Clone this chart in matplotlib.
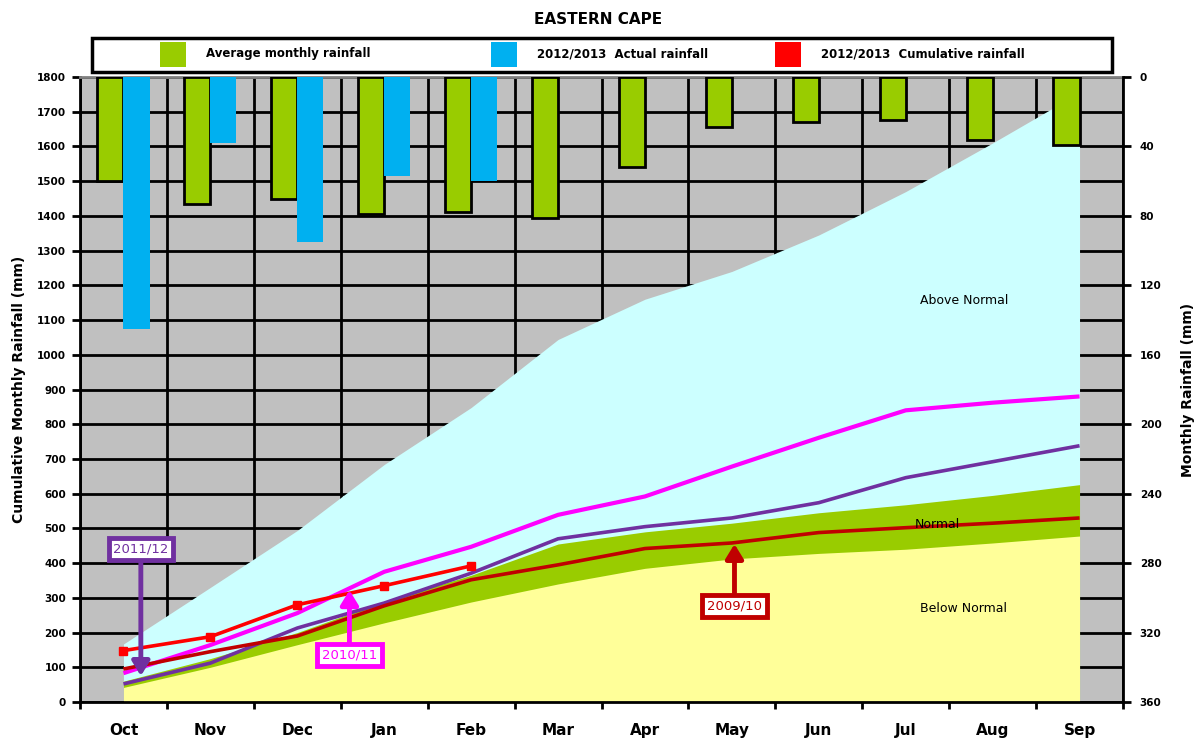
import numpy as np
import matplotlib
matplotlib.use("Agg")
import matplotlib.pyplot as plt
from matplotlib.patches import Rectangle

# ---------------- data ----------------
months = ['Oct', 'Nov', 'Dec', 'Jan', 'Feb', 'Mar', 'Apr', 'May', 'Jun', 'Jul', 'Aug', 'Sep']
avg_monthly = [60, 73, 70, 79, 78, 81, 52, 29, 26, 25, 36, 39]
actual_2012_13 = [145, 38, 95, 57, 60]
cum_2012_13 = [148, 188, 280, 335, 392]
below_normal = [42, 100, 165, 228, 288, 340, 385, 412, 428, 440, 458, 478]
normal_upper = [60, 125, 200, 290, 365, 455, 490, 515, 545, 568, 595, 626]
above_normal = [167, 330, 494, 684, 848, 1044, 1160, 1240, 1345, 1470, 1610, 1755]
s2009_10 = [95, 145, 190, 277, 352, 395, 442, 458, 488, 502, 515, 530]
s2010_11 = [83, 164, 256, 375, 447, 539, 592, 678, 761, 840, 862, 880]
s2011_12 = [52, 112, 213, 285, 371, 470, 505, 530, 574, 646, 692, 738]
left_ticks = list(range(0, 1900, 100))
right_ticks = list(range(0, 400, 40))

# ---------------- colours ----------------
GRAY = '#C0C0C0'
CYAN = '#CCFFFF'
GREEN = '#99CC00'
YELLOW = '#FFFF99'
BLUE = '#00B0F0'
MAGENTA = '#FF00FF'
PURPLE = '#7030A0'
DARKRED = '#C00000'
RED = '#FF0000'

W, H = 1194, 743
fig = plt.figure(figsize=(W / 100, H / 100), dpi=100)
fig.patch.set_facecolor('white')

def fx(px):
    return px / W

def fy(py):
    return 1 - py / H

L, R, T, B = 80, 1123, 77, 702
ax = fig.add_axes([fx(L), fy(B), (R - L) / W, (B - T) / H])
ax.set_facecolor(GRAY)

x = np.arange(len(months))
n = len(months)

# areas
ax.fill_between(x, 0, above_normal, color=CYAN, lw=0, zorder=1)
ax.fill_between(x, 0, normal_upper, color=GREEN, lw=0, zorder=1.1)
ax.fill_between(x, 0, below_normal, color=YELLOW, lw=0, zorder=1.2)

# lines
ax.plot(x, s2010_11, color=MAGENTA, lw=3.0, zorder=3, solid_capstyle='butt')
ax.plot(x, s2011_12, color=PURPLE, lw=2.6, zorder=3, solid_capstyle='butt')
ax.plot(x, s2009_10, color=DARKRED, lw=2.6, zorder=3, solid_capstyle='butt')
ax.plot(x[:len(cum_2012_13)], cum_2012_13, color=RED, lw=2.6, marker='s',
        markersize=6, zorder=3.5)

ax.set_xlim(-0.5, n - 0.5)
ax.set_ylim(0, 1800)
ax.set_yticks(left_ticks)
ax.set_yticklabels([str(v) for v in left_ticks], fontsize=7.5, fontweight='bold')
ax.set_xticks(x)
ax.set_xticklabels(months, fontsize=11, fontweight='bold')
ax.set_xticks(np.arange(-0.5, n, 1.0), minor=True)
ax.tick_params(axis='x', which='major', length=0, pad=15)
ax.tick_params(axis='x', which='minor', length=5, width=2, direction='out')
ax.tick_params(axis='y', length=6, width=2, direction='out', pad=4)

ax.set_axisbelow(True)
ax.grid(axis='y', which='major', color='black', lw=2, zorder=0.5)
ax.grid(axis='x', which='minor', color='black', lw=2, zorder=0.5)
ax.grid(axis='x', which='major', visible=False)

for s in ['left', 'bottom']:
    ax.spines[s].set_linewidth(2)
    ax.spines[s].set_color('black')
ax.spines['top'].set_color('#808080')
ax.spines['top'].set_linewidth(2)
ax.spines['right'].set_visible(False)

ax.set_ylabel('Cumulative Monthly Rainfall (mm)', fontsize=10, fontweight='bold', labelpad=8)

# secondary axis with monthly bars
ax2 = ax.twinx()
ax2.set_ylim(360, 0)
ax2.set_yticks(right_ticks)
ax2.set_yticklabels([str(v) for v in right_ticks], fontsize=7.5, fontweight='bold')
ax2.tick_params(axis='y', length=6, width=2, direction='out', pad=6)
ax2.bar(x - 0.15, avg_monthly, width=0.3, color=GREEN, edgecolor='black', lw=2, zorder=2)
ax2.bar(x[:len(actual_2012_13)] + 0.15, actual_2012_13, width=0.3, color=BLUE, lw=0, zorder=2)
ax2.set_ylabel('Monthly Rainfall (mm)', fontsize=10, fontweight='bold', rotation=90, labelpad=14)
ax2.spines['right'].set_linewidth(2)
ax2.spines['right'].set_color('black')
for s in ['left', 'top', 'bottom']:
    ax2.spines[s].set_visible(False)
ax2.set_xlim(-0.5, n - 0.5)

# band labels
ax.text(9.67, 1155, 'Above Normal', fontsize=9, ha='center', va='center', zorder=4)
ax.text(9.37, 512, 'Normal', fontsize=9, ha='center', va='center', zorder=4)
ax.text(9.67, 270, 'Below Normal', fontsize=9, ha='center', va='center', zorder=4)

# season call-outs
def callout(label, color, xy, xytext):
    ax.annotate(label, xy=xy, xytext=xytext, fontsize=9.5, color=color,
                ha='center', va='center', zorder=5,
                bbox=dict(boxstyle='square,pad=0.35', fc='white', ec=color, lw=3.5),
                arrowprops=dict(arrowstyle='-|>,head_width=0.55,head_length=0.9',
                                color=color, lw=3.5, shrinkA=0, shrinkB=0))

callout('2011/12', PURPLE, (0.2, 75), (0.2, 441))
callout('2010/11', MAGENTA, (2.6, 322), (2.6, 136))
callout('2009/10', DARKRED, (7.03, 455), (7.03, 277))

# title
fig.text(fx(598), fy(20), 'EASTERN CAPE', fontsize=11, fontweight='bold', ha='center', va='center')

# legend box
fig.add_artist(Rectangle((fx(92), fy(72)), (1112 - 92) / W, (72 - 38) / H,
                         transform=fig.transFigure, fc='white', ec='black', lw=2.5))
legend_items = [(GREEN, 160, 'Average monthly rainfall'),
                (BLUE, 491, '2012/2013  Actual rainfall'),
                (RED, 775, '2012/2013  Cumulative rainfall')]
for col, px, lab in legend_items:
    fig.add_artist(Rectangle((fx(px), fy(67)), 26 / W, 25 / H, transform=fig.transFigure,
                             fc=col, ec='none'))
    fig.text(fx(px + 46), fy(54), lab, fontsize=8.5, fontweight='bold', ha='left', va='center')

fig.savefig('out.png', dpi=100)
